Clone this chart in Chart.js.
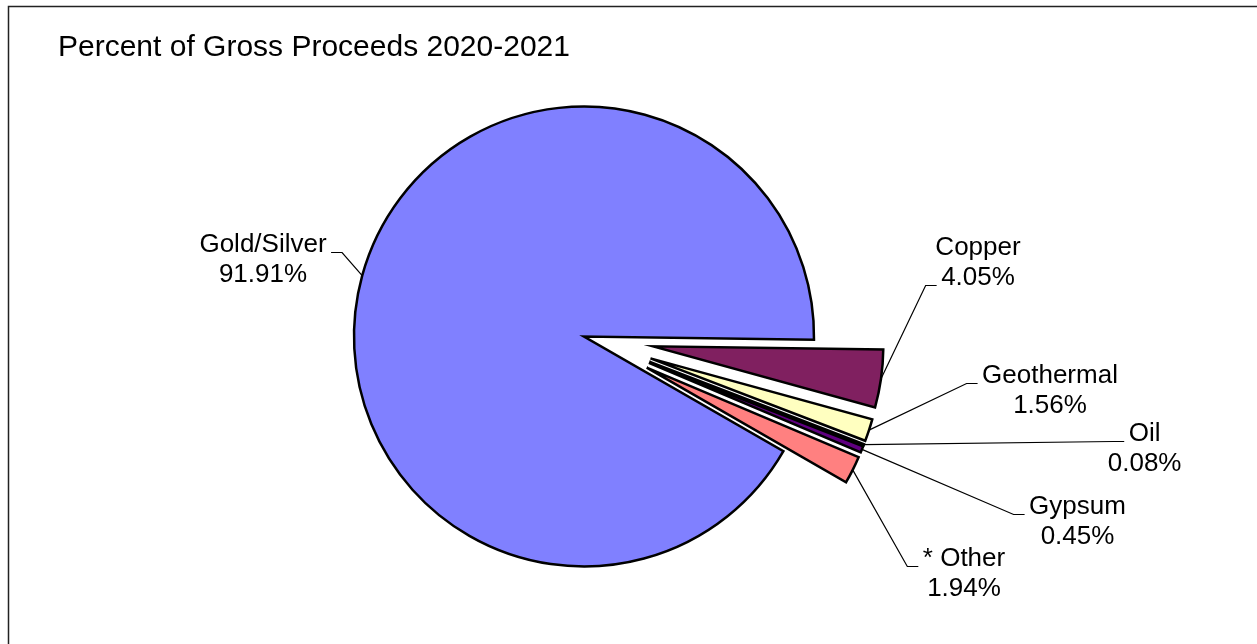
<!DOCTYPE html>
<html><head><meta charset="utf-8">
<script src="https://cdn.jsdelivr.net/npm/chart.js@4.4.1/dist/chart.umd.min.js"></script>
<style>html,body{margin:0;padding:0;background:#fff;overflow:hidden}canvas{display:block}</style>
</head><body>
<canvas id="c" width="1257" height="644"></canvas>
<script>
// ---- data ----
const categories = ['Copper', 'Geothermal', 'Oil', 'Gypsum', '* Other', 'Gold/Silver'];
const percents = [4.05, 1.56, 0.08, 0.45, 1.94, 91.91];
const titleText = 'Percent of Gross Proceeds 2020-2021';

// ---- styles / layout ----
const sliceColors = ['#802060', '#FFFFC0', '#A0E0E0', '#600080', '#FF8080', '#8080FF'];
const explodeDistance = [70, 70, 70, 70, 70, 0];
// label block position (center x, first-line baseline) relative to pie center
const labelOffsets = [[394, -81.5], [466, 46.8], [560.6, 104.2], [493.5, 177.8], [380, 229.2], [-321, -84.8]];
const leaderAttachLine = [1, 0, 0, 0, 0, 0];
const LABEL_FONT = '26px "Liberation Sans", Arial, sans-serif';
const TITLE_FONT = '30px "Liberation Sans", Arial, sans-serif';
const LINE_H = 30;

const explodePlugin = {
  id: 'explode',
  beforeDatasetDraw(chart, args) {
    const ctx = chart.ctx;
    args.meta.data.forEach((arc, i) => {
      const mid = (arc.startAngle + arc.endAngle) / 2;
      const d = explodeDistance[i] || 0;
      ctx.save();
      ctx.translate(Math.cos(mid) * d, Math.sin(mid) * d);
      arc.draw(ctx, chart.chartArea);
      ctx.restore();
    });
    return false;
  }
};

const decorPlugin = {
  id: 'decor',
  afterDraw(chart) {
    const ctx = chart.ctx;
    ctx.save();
    // frame
    ctx.strokeStyle = '#222';
    ctx.lineWidth = 1.5;
    ctx.strokeRect(8.5, 6.5, 1300, 700);
    // title
    ctx.fillStyle = '#000';
    ctx.font = TITLE_FONT;
    ctx.textAlign = 'left';
    ctx.textBaseline = 'alphabetic';
    ctx.fillText(titleText, 58, 56);
    // labels
    const meta = chart.getDatasetMeta(0);
    ctx.font = LABEL_FONT;
    ctx.textAlign = 'center';
    meta.data.forEach((arc, i) => {
      const mid = (arc.startAngle + arc.endAngle) / 2;
      const r = arc.outerRadius + explodeDistance[i];
      const px = arc.x + Math.cos(mid) * r;
      const py = arc.y + Math.sin(mid) * r;
      const lines = [categories[i], percents[i].toFixed(2) + '%'];
      const cx = arc.x + labelOffsets[i][0];
      const by = arc.y + labelOffsets[i][1];
      lines.forEach((t, k) => ctx.fillText(t, cx, by + k * LINE_H));
      const a = leaderAttachLine[i];
      const w = ctx.measureText(lines[a]).width;
      const ty = Math.round(by + a * LINE_H) + 0.5;
      const gap = 4.5, tick = 11;
      let x1, x2;
      if (cx > px) { x1 = cx - w / 2 - gap; x2 = x1 - tick; }
      else { x1 = cx + w / 2 + gap; x2 = x1 + tick; }
      ctx.beginPath();
      ctx.strokeStyle = '#000';
      ctx.lineWidth = 1.2;
      ctx.moveTo(x1, ty);
      ctx.lineTo(x2, ty);
      ctx.lineTo(px, py);
      ctx.stroke();
    });
    ctx.restore();
  }
};

new Chart(document.getElementById('c'), {
  type: 'pie',
  data: {
    labels: categories,
    datasets: [{
      data: percents,
      backgroundColor: sliceColors,
      borderColor: '#000',
      borderWidth: 2.5,
      borderJoinStyle: 'miter'
    }]
  },
  options: {
    responsive: false,
    animation: false,
    radius: 230,
    rotation: 90.8,
    layout: { padding: { left: 0, right: 89, top: 29, bottom: 0 } },
    plugins: { legend: { display: false }, tooltip: { enabled: false }, title: { display: false } }
  },
  plugins: [explodePlugin, decorPlugin]
});
</script>
</body></html>
